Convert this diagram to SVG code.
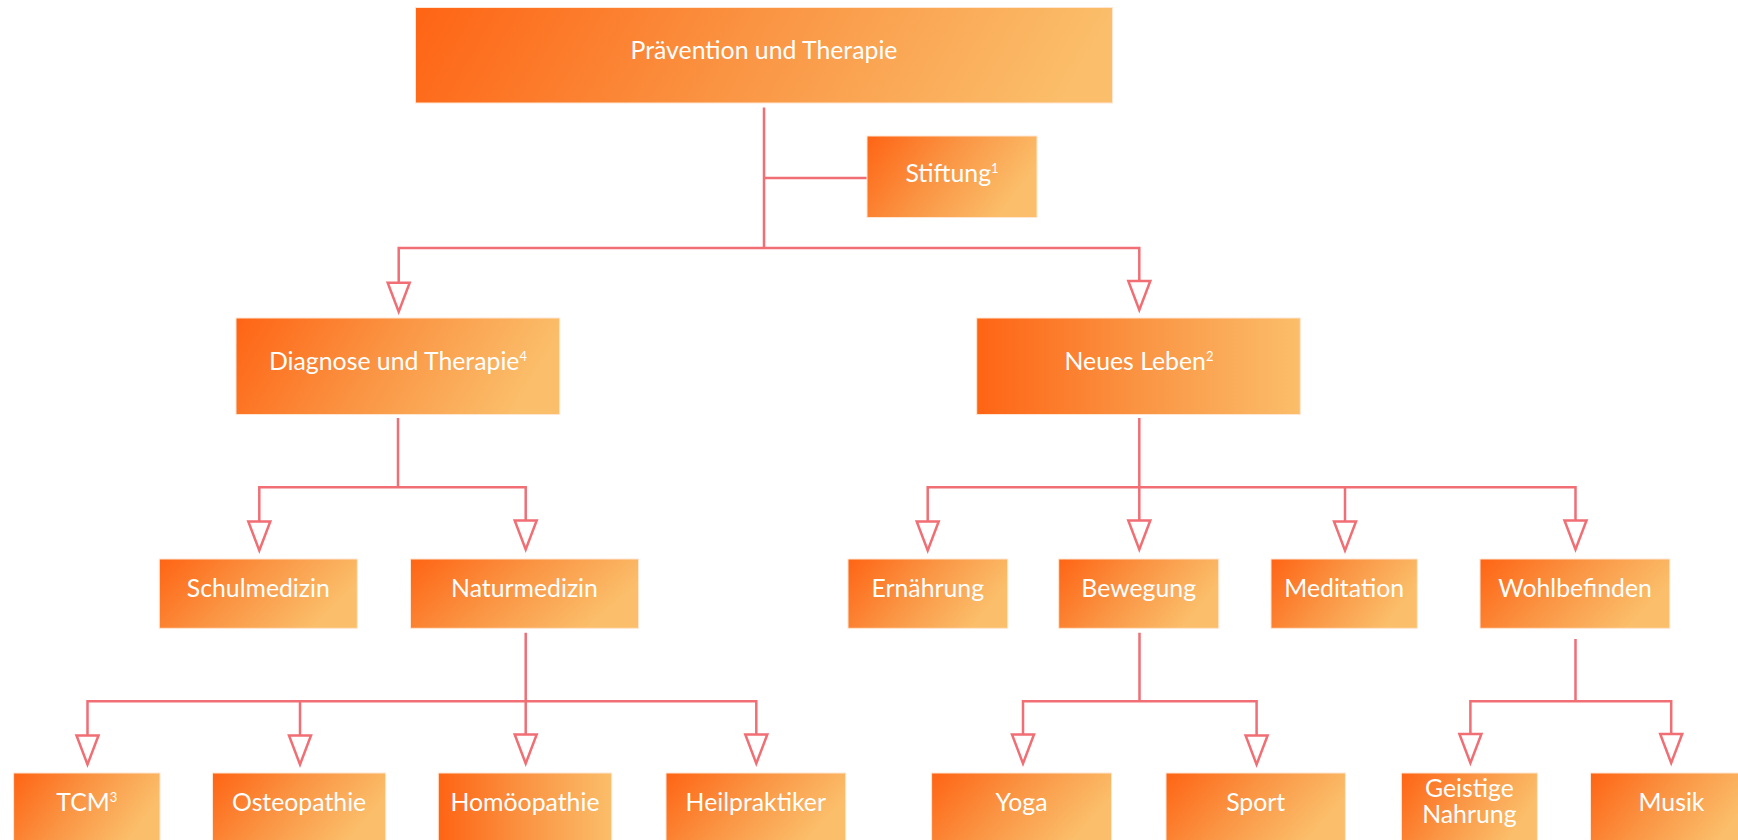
<svg xmlns="http://www.w3.org/2000/svg" xmlns:xlink="http://www.w3.org/1999/xlink" width="1738" height="840" viewBox="0 0 1738 840">
  <defs>
    <linearGradient id="gw" x1="0" y1="0" x2="1" y2="0.08">
      <stop offset="0" stop-color="#FE6414"/>
      <stop offset="0.5" stop-color="#FA9443"/>
      <stop offset="1" stop-color="#FBBE6A"/>
    </linearGradient>
    <linearGradient id="gm" x1="0" y1="0" x2="1" y2="0.18">
      <stop offset="0" stop-color="#FE6414"/>
      <stop offset="0.5" stop-color="#FA9443"/>
      <stop offset="1" stop-color="#FBBE6A"/>
    </linearGradient>
    <linearGradient id="gd" x1="0" y1="0" x2="1" y2="0.35">
      <stop offset="0" stop-color="#FE6414"/>
      <stop offset="0.5" stop-color="#FA9443"/>
      <stop offset="1" stop-color="#FBBE6A"/>
    </linearGradient>
    <linearGradient id="gh" x1="0" y1="0" x2="1" y2="0">
      <stop offset="0" stop-color="#FE6414"/>
      <stop offset="0.5" stop-color="#FA9443"/>
      <stop offset="1" stop-color="#FBBE6A"/>
    </linearGradient>
    <path id="ah" d="M-11,0 L11,0 L0,29 Z"/>
    <style>
      .box { fill: url(#gd); stroke: #FFE6D2; stroke-width: 1; }
      .boxw { fill: url(#gw); stroke: #FFE6D2; stroke-width: 1; }
      .boxm { fill: url(#gm); stroke: #FFE6D2; stroke-width: 1; }
      .boxh { fill: url(#gh); stroke: #FFE6D2; stroke-width: 1; }
      .lbl { font-family: Lato, "Liberation Sans", sans-serif; font-size: 24.8px; fill: #FFFFFF; text-anchor: middle; }
      .sup { font-size: 13px; }
      .ln { fill: none; stroke: #F06E74; stroke-width: 2.5; stroke-linejoin: miter; }
      .arr { fill: #FFFFFF; stroke: #F06E74; stroke-width: 2.5; stroke-linejoin: miter; }
    </style>
  </defs>
  <rect width="1738" height="840" fill="#FFFFFF"/>

  <g id="connectors">
    <path class="ln" d="M764,107.5 V248 M764,178 H867"/>
    <path class="ln" d="M398.7,282.7 V248 H1139.3 V281"/>
    <path class="ln" d="M398,418 V487.3 M259.3,521.5 V487.3 H525.7 V520.5"/>
    <path class="ln" d="M1139.3,418 V487.3 M927.7,521.5 V487.3 H1575.5 V520.5 M1139.3,487.3 V520.5 M1345,487.3 V521.5"/>
    <path class="ln" d="M525.7,632.7 V701.3 M87.5,735.5 V701.3 H756.3 V734.5 M300,701.3 V735.5 M525.7,701.3 V734.5"/>
    <path class="ln" d="M1139.5,632.7 V701.3 M1023,734.5 V701.3 H1256.6 V735.5"/>
    <path class="ln" d="M1575.5,639 V701.3 M1470.4,734 V701.3 H1671.2 V734"/>
    <use href="#ah" class="arr" x="398.7" y="282.7"/>
    <use href="#ah" class="arr" x="1139.3" y="281"/>
    <use href="#ah" class="arr" x="259.3" y="521.5"/>
    <use href="#ah" class="arr" x="525.7" y="520.5"/>
    <use href="#ah" class="arr" x="927.7" y="521.5"/>
    <use href="#ah" class="arr" x="1139.3" y="520.5"/>
    <use href="#ah" class="arr" x="1345" y="521.5"/>
    <use href="#ah" class="arr" x="1575.5" y="520.5"/>
    <use href="#ah" class="arr" x="87.5" y="735.5"/>
    <use href="#ah" class="arr" x="300" y="735.5"/>
    <use href="#ah" class="arr" x="525.7" y="734.5"/>
    <use href="#ah" class="arr" x="756.3" y="734.5"/>
    <use href="#ah" class="arr" x="1023" y="734.5"/>
    <use href="#ah" class="arr" x="1256.6" y="735.5"/>
    <use href="#ah" class="arr" x="1470.4" y="734"/>
    <use href="#ah" class="arr" x="1671.2" y="734"/>
  </g>

  <g id="n-praevention">
    <rect class="boxw" x="415.5" y="7.5" width="697" height="95.5"/>
    <text class="lbl" x="764" y="59">Prävention und Therapie</text>
  </g>
  <g id="n-stiftung">
    <rect class="box" x="867" y="136" width="170" height="81.5"/>
    <text class="lbl" x="952" y="182">Stiftung<tspan class="sup" dy="-9">1</tspan></text>
  </g>
  <g id="n-diagnose">
    <rect class="boxm" x="236" y="318" width="323.7" height="96.5"/>
    <text class="lbl" x="398" y="370">Diagnose und Therapie<tspan class="sup" dy="-9">4</tspan></text>
  </g>
  <g id="n-neues-leben">
    <rect class="boxh" x="976.7" y="318" width="323.6" height="96.5"/>
    <text class="lbl" x="1139" y="370">Neues Leben<tspan class="sup" dy="-9">2</tspan></text>
  </g>

  <g id="n-schulmedizin">
    <rect class="box" x="159.3" y="559" width="198" height="69.3"/>
    <text class="lbl" x="258.3" y="597">Schulmedizin</text>
  </g>
  <g id="n-naturmedizin">
    <rect class="box" x="410.5" y="559" width="228" height="69.3"/>
    <text class="lbl" x="524.5" y="597">Naturmedizin</text>
  </g>
  <g id="n-ernaehrung">
    <rect class="box" x="848" y="559" width="159.7" height="69.3"/>
    <text class="lbl" x="927.8" y="597">Ernährung</text>
  </g>
  <g id="n-bewegung">
    <rect class="box" x="1058.7" y="559" width="160" height="69.3"/>
    <text class="lbl" x="1138.7" y="597">Bewegung</text>
  </g>
  <g id="n-meditation">
    <rect class="box" x="1271" y="559" width="146.3" height="69.3"/>
    <text class="lbl" x="1344.2" y="597">Meditation</text>
  </g>
  <g id="n-wohlbefinden">
    <rect class="box" x="1480" y="559" width="189.8" height="69.3"/>
    <text class="lbl" x="1575" y="597">Wohlbefinden</text>
  </g>

  <g id="n-tcm">
    <rect class="box" x="13.6" y="773" width="146.4" height="70"/>
    <text class="lbl" x="86.8" y="811">TCM<tspan class="sup" dy="-9">3</tspan></text>
  </g>
  <g id="n-osteopathie">
    <rect class="box" x="212.5" y="773" width="173.2" height="70"/>
    <text class="lbl" x="299.1" y="811">Osteopathie</text>
  </g>
  <g id="n-homoeopathie">
    <rect class="boxh" x="438.3" y="773" width="173.4" height="70"/>
    <text class="lbl" x="525" y="811">Homöopathie</text>
  </g>
  <g id="n-heilpraktiker">
    <rect class="box" x="666" y="773" width="179.7" height="70"/>
    <text class="lbl" x="755.8" y="811">Heilpraktiker</text>
  </g>
  <g id="n-yoga">
    <rect class="box" x="931.6" y="773" width="179.9" height="70"/>
    <text class="lbl" x="1021.5" y="811">Yoga</text>
  </g>
  <g id="n-sport">
    <rect class="box" x="1166" y="773" width="179.4" height="70"/>
    <text class="lbl" x="1255.7" y="811">Sport</text>
  </g>
  <g id="n-geistige-nahrung">
    <rect class="box" x="1401.4" y="773" width="136" height="70"/>
    <text class="lbl" x="1469.4" y="797">Geistige</text>
    <text class="lbl" x="1469.4" y="823">Nahrung</text>
  </g>
  <g id="n-musik">
    <rect class="box" x="1590.5" y="773" width="162" height="70"/>
    <text class="lbl" x="1671.5" y="811">Musik</text>
  </g>
</svg>
